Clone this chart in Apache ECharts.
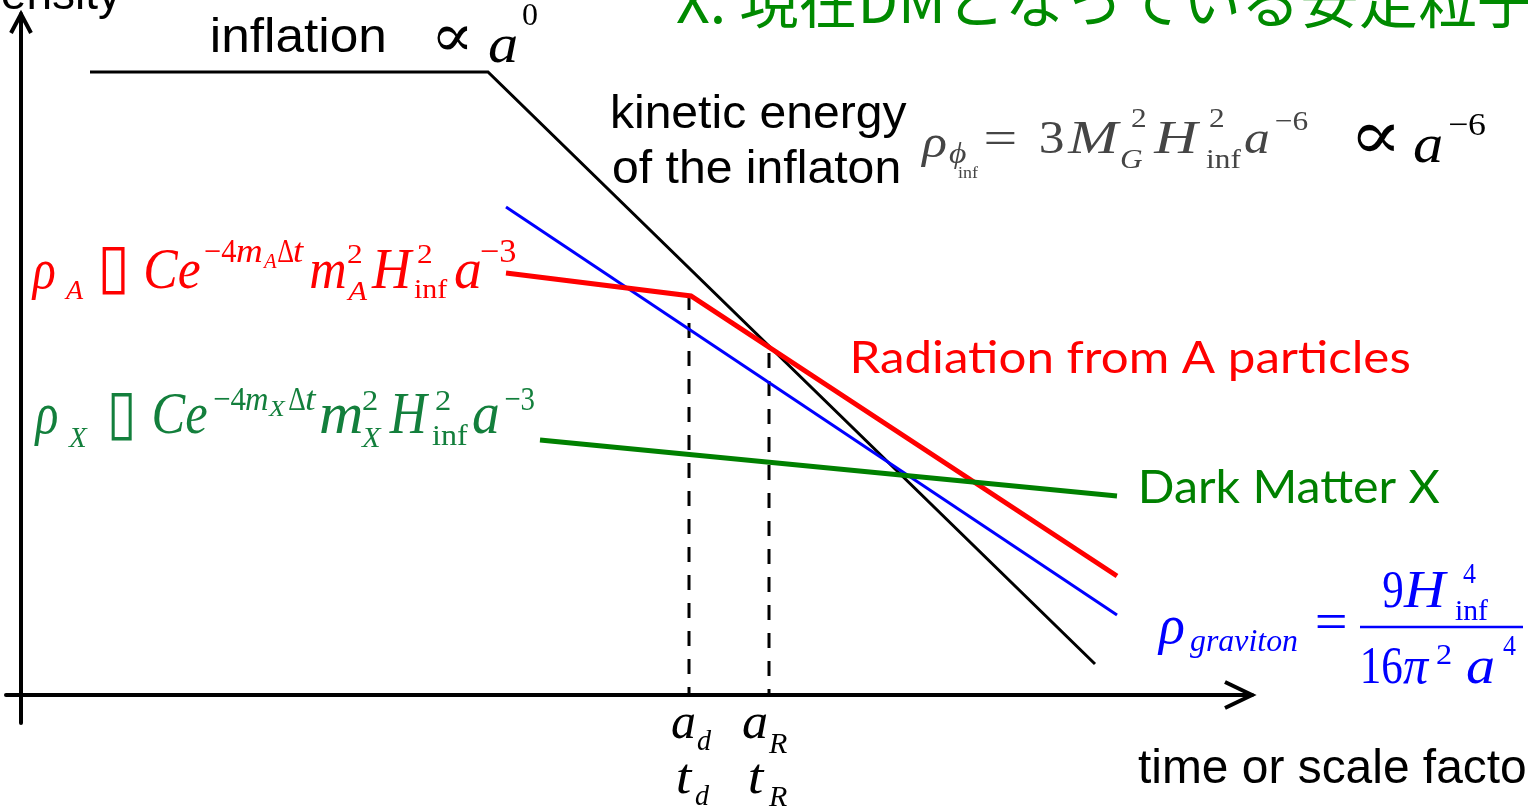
<!DOCTYPE html>
<html><head><meta charset="utf-8">
<script src="https://cdn.jsdelivr.net/npm/echarts@6/dist/echarts.min.js"></script>
<style>html,body{margin:0;padding:0;background:#fff;overflow:hidden}#c{width:1528px;height:806px}</style>
</head><body><div id="c"></div>
<script>
// ---- data: x = log(scale factor) units, y = log(energy density) units ----
const inflatonKinetic = [[6.9, 62.3], [46.7, 62.3], [107.4, 3.1]];
const gravitonRad     = [[48.5, 48.8], [109.6, 8.0]];
const radiationA      = [[48.5, 42.2], [67.0, 39.9], [109.6, 11.9]];
const darkMatterX     = [[51.9, 25.5], [109.6, 19.9]];
const decayD          = [[66.8, 40.0], [66.8, 0]];
const reheatR         = [[74.8, 34.2], [74.8, 0]];
const axisX = [-1.5, 123.1];
const axisY = [-2.8, 68.1];

const chart = echarts.init(document.getElementById('c'), null, {renderer: 'canvas'});
const lineS = (name, data, color, width, extra) => Object.assign({
  type: 'line', name: name, data: data, showSymbol: false, symbol: 'none', silent: true,
  lineStyle: {color: color, width: width, cap: 'butt', join: 'miter'}, animation: false
}, extra || {});

chart.setOption({
  animation: false,
  backgroundColor: '#fff',
  grid: {left: 6, right: 276, top: 14, bottom: 83, containLabel: false},
  xAxis: {type: 'value', min: axisX[0], max: axisX[1],
    axisLine: {show: true, onZero: true, lineStyle: {color: '#000', width: 4}},
    axisTick: {show: false}, axisLabel: {show: false}, splitLine: {show: false}},
  yAxis: {type: 'value', min: axisY[0], max: axisY[1],
    axisLine: {show: true, onZero: true, lineStyle: {color: '#000', width: 4}},
    axisTick: {show: false}, axisLabel: {show: false}, splitLine: {show: false}},
  series: [
    lineS('aR', reheatR, '#000', 3, {lineStyle: {color: '#000', width: 3, type: [15, 13]}}),
    lineS('ad', decayD, '#000', 3, {lineStyle: {color: '#000', width: 3, type: [15, 13]}}),
    lineS('inflaton', inflatonKinetic, '#000', 3),
    lineS('graviton', gravitonRad, '#0000FF', 3),
    lineS('radiation A', radiationA, '#FF0000', 5),
    lineS('dark matter X', darkMatterX, '#008000', 5)
  ]
});

// ---- text helpers ----
const cv = document.createElement('canvas').getContext('2d');
const SERIF = '"Liberation Serif", "DejaVu Serif", serif';
const SANS = '"Liberation Sans", Arial, sans-serif';
const LATO = 'Lato, "Open Sans", sans-serif';
const CJK = '"Noto Sans CJK JP", "Noto Sans CJK SC", sans-serif';
const DJ = '"DejaVu Sans", sans-serif';
function midOff(font, size) {
  cv.font = font;
  cv.textBaseline = 'alphabetic';
  const a = cv.measureText('Hx').fontBoundingBoxAscent;
  cv.textBaseline = 'middle';
  const m = cv.measureText('Hx').fontBoundingBoxAscent;
  cv.textBaseline = 'alphabetic';
  if (isFinite(a) && isFinite(m)) return a - m;
  return 0.32 * size;
}
// x0/x1: ink extent to fit; base: alphabetic baseline
function P(t, x0, x1, base, size, o) {
  o = o || {};
  const fam = o.fam || SERIF;
  const font = (o.it ? 'italic ' : '') + size + 'px ' + fam;
  cv.font = font; cv.textBaseline = 'alphabetic';
  const mt = cv.measureText(o.fit || t);
  const L = mt.actualBoundingBoxLeft || 0, Rr = mt.actualBoundingBoxRight || mt.width;
  let sx = 1, x;
  if (o.right) {
    x = x1 - Rr;
  } else {
    if (x1 != null) {
      sx = (x1 - x0) / (L + Rr);
      const cap = o.cap || 1.12;
      if (sx > cap) sx = cap;
      if (sx < 0.6) sx = 0.6;
    }
    x = x0 + L * sx;
  }
  return {type: 'text', x: x, y: base - midOff(font, size), scaleX: sx, silent: true, z: 20,
    style: {text: t, font: font, fill: o.c || '#000', align: 'left', verticalAlign: 'middle'}};
}
const it = (c, extra) => Object.assign({it: true, c: c}, extra || {});
const up = (c, extra) => Object.assign({c: c}, extra || {});

const R = '#FF0000', G = '#137F3C', B = '#0000FF', K = '#000', GR = '#454545';
const els = [];
// title & axis labels
els.push(P('X. 現在DMとなっている安定粒子', 677, null, 23, 59, {fam: CJK, c: '#008A00'}));
els.push(P('density', null, 121, 9, 46, {fam: SANS, right: true}));
els.push(P('time or scale factor', 1138, 1525, 783, 48, {fam: SANS, fit: 'time or scale facto'}));
els.push(P('inflation', 213, 384, 52, 48, {fam: SANS}));
els.push(P('∝', 437, 468, 56, 60, up(K)));
els.push(P('a', 489, 516, 62, 54, it(K)));
els.push(P('0', 523, 537, 25, 32, up(K)));
els.push(P('kinetic energy', 613, 907, 128, 47, {fam: SANS}));
els.push(P('of the inflaton', 613, 899, 183, 47, {fam: SANS}));
// kinetic formula
const kc = {cap: 1.3};
[
  ['ρ', 920, 950, 157, 46, it(GR)], ['ϕ', 949, 975, 163, 30, it(GR)], ['inf', 958, 979, 178, 16, up(GR)],
  ['=', 986, 1030, 153, 46, up(GR, kc)], ['3', 1041, 1064, 153, 46, up(GR)], ['M', 1067, 1122, 153, 46, it(GR, kc)],
  ['2', 1132, 1148, 127, 28, up(GR)], ['G', 1121, 1148, 168, 28, it(GR)], ['H', 1153, 1204, 153, 46, it(GR, kc)],
  ['2', 1210, 1226, 127, 28, up(GR)], ['inf', 1206, 1242, 168, 28, up(GR)], ['a', 1245, 1272, 153, 46, it(GR)],
  ['−6', 1276, 1325, 130, 28, up(GR)],
  ['∝', 1357, 1405, 159, 70, up(K)], ['a', 1414, 1446, 162, 54, it(K)], ['−6', 1449, 1488, 135, 32, up(K)]
].forEach(p => els.push(P.apply(null, p)));
// red formula
[
  ['ρ', 31, 55, 288, 58, it(R)], ['A', 64, 84, 299, 28, it(R)], ['▯', 102, 125, 287, 62, up(R, {fam: DJ, cap: 2})],
  ['Ce', 146, 200, 288, 58, it(R)], ['−4', 205, 236, 262, 33, up(R)], ['m', 237, 262, 262, 33, it(R)],
  ['A', 262, 277, 268, 22, it(R)], ['Δ', 278, 293, 262, 33, up(R)], ['t', 294, 304, 262, 33, it(R)],
  ['m', 311, 345, 288, 58, it(R)], ['2', 348, 364, 263, 28, up(R)], ['A', 346, 368, 300, 28, it(R)],
  ['H', 371, 414, 288, 58, it(R)], ['2', 418, 434, 263, 28, up(R)], ['inf', 414, 448, 298, 28, up(R)],
  ['a', 455, 480, 288, 58, it(R)], ['−3', 481, 516, 262, 33, up(R)]
].forEach(p => els.push(P.apply(null, p)));
// green formula
[
  ['ρ', 34, 57, 433, 60, it(G)], ['X', 68, 88, 447, 29, it(G)], ['▯', 111, 132, 433, 62, up(G, {fam: DJ, cap: 2})],
  ['Ce', 154, 207, 433, 60, it(G)], ['−4', 214, 246, 410, 34, up(G)], ['m', 246, 268, 410, 34, it(G)],
  ['X', 268, 286, 416, 23, it(G)], ['Δ', 289, 305, 410, 34, up(G)], ['t', 306, 318, 410, 34, it(G)],
  ['m', 321, 361, 433, 60, it(G)], ['2', 363, 378, 410, 29, up(G)], ['X', 361, 382, 447, 29, it(G)],
  ['H', 389, 430, 433, 60, it(G)], ['2', 436, 451, 410, 29, up(G)], ['inf', 432, 468, 445, 29, up(G)],
  ['a', 473, 498, 433, 60, it(G)], ['−3', 505, 534, 410, 34, up(G)]
].forEach(p => els.push(P.apply(null, p)));
// blue formula
[
  ['ρ', 1157, 1184, 643, 54, it(B)], ['graviton', 1190, 1297, 651, 32, it(B)], ['=', 1317, 1347, 639, 52, up(B)],
  ['9', 1383, 1402, 607, 52, up(B)], ['H', 1403, 1448, 607, 52, it(B)], ['4', 1463, 1476, 583, 30, up(B)],
  ['inf', 1455, 1488, 620, 30, up(B)], ['16', 1363, 1402, 683, 52, up(B)], ['π', 1403, 1430, 683, 52, it(B)],
  ['2', 1437, 1451, 664, 30, up(B)], ['a', 1467, 1495, 683, 52, it(B)], ['4', 1503, 1516, 655, 30, up(B)]
].forEach(p => els.push(P.apply(null, p)));
els.push({type: 'line', silent: true, z: 20, shape: {x1: 1360, y1: 627, x2: 1523, y2: 627}, style: {stroke: B, lineWidth: 2.5}});
// curve labels
els.push(P('Radiation from A particles', 854, 1411, 373, 44, {fam: LATO, c: R}));
els.push(P('Dark Matter X', 1142, 1440, 503, 46, {fam: LATO, c: '#008000'}));
// a_d, a_R, t_d, t_R
[
  ['a', 672, 695, 738, 50, it(K)], ['d', 697, 712, 750, 30, it(K)],
  ['a', 743, 767, 738, 50, it(K)], ['R', 768, 787, 753, 30, it(K)],
  ['t', 678, 693, 793, 50, it(K)], ['d', 695, 710, 805, 30, it(K)],
  ['t', 750, 765, 793, 50, it(K)], ['R', 768, 787, 806, 30, it(K)]
].forEach(p => els.push(P.apply(null, p)));

// axis arrowheads (open chevrons) at axis ends
const tipX = chart.convertToPixel({gridIndex: 0}, [axisX[1], 0]);
const tipY = chart.convertToPixel({gridIndex: 0}, [0, axisY[1]]);
els.push({type: 'polyline', silent: true, z: 20, shape: {points: [[tipX[0] - 27, tipX[1] - 13], [tipX[0], tipX[1]], [tipX[0] - 27, tipX[1] + 13]]},
  style: {stroke: '#000', lineWidth: 4, fill: null, lineJoin: 'miter'}});
els.push({type: 'polyline', silent: true, z: 20, shape: {points: [[tipY[0] - 10, tipY[1] + 19], [tipY[0], tipY[1]], [tipY[0] + 10, tipY[1] + 19]]},
  style: {stroke: '#000', lineWidth: 4, fill: null, lineJoin: 'miter'}});

chart.setOption({graphic: {elements: els}});
</script></body></html>
